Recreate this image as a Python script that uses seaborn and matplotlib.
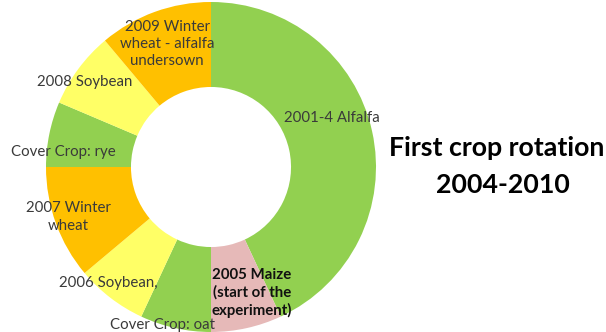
import matplotlib
matplotlib.use("Agg")
import matplotlib.pyplot as plt
import seaborn as sns

sns.set_theme(style="white")
plt.rcParams["font.family"] = ["Lato", "DejaVu Sans"]

# Rotation phases, clockwise from the top (share of the ring, in degrees)
phases = [
    "2001-4 Alfalfa",
    "2005 Maize\n(start of the\nexperiment)",
    "Cover Crop: oat",
    "2006 Soybean,",
    "2007 Winter\nwheat",
    "Cover Crop: rye",
    "2008 Soybean",
    "2009 Winter\nwheat - alfalfa\nundersown",
]
shares = [155, 25, 25, 25, 40, 23, 27, 40]
crop_colors = ["#92D050", "#E6B9B8", "#92D050", "#FFFF66",
               "#FFC000", "#92D050", "#FFFF66", "#FFC000"]

W, H = 606, 332
fig = plt.figure(figsize=(W / 100, H / 100), dpi=100)

# ring centre and outer radius in pixels
cx, cy, r = 211, 167, 165
ax = fig.add_axes([(cx - r) / W, (H - cy - r) / H, 2 * r / W, 2 * r / H])
ax.pie(shares, colors=crop_colors, startangle=90, counterclock=False,
       radius=1.0, wedgeprops=dict(width=0.515, linewidth=0))
ax.set_xlim(-1, 1)
ax.set_ylim(-1, 1)
ax.set_aspect("equal")
ax.axis("off")

# label anchor points (pixel positions of label centres)
label_pos = [(332, 118), (252, 293), (162, 325), (108, 283),
             (68, 217), (63, 152), (85, 82), (167, 44)]

def to_data(px, py):
    return (px - cx) / r, (cy - py) / r

for i, (name, (px, py)) in enumerate(zip(phases, label_pos)):
    x, y = to_data(px, py)
    bold = i == 1
    ax.text(x, y, name, ha="center", va="center", fontsize=10.8,
            color="#111111" if bold else "#3a3a3a",
            fontweight="bold" if bold else "normal",
            linespacing=1.3, clip_on=False)

fig.text(497 / W, 1 - 148 / H, "First crop rotation", ha="center", va="center",
         fontsize=19.3, fontweight="bold", color="black")
fig.text(503 / W, 1 - 185 / H, "2004-2010", ha="center", va="center",
         fontsize=19.3, fontweight="bold", color="black")

fig.savefig("out.png", dpi=100, facecolor="white")
